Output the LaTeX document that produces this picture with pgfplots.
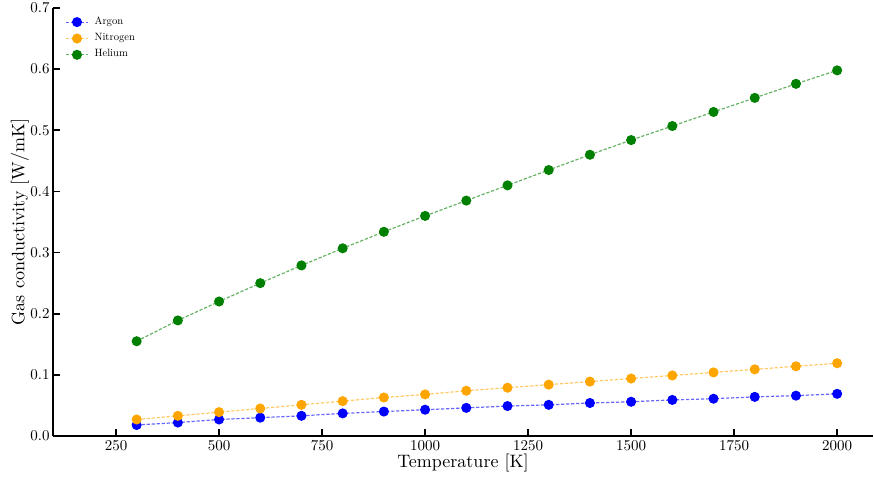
\documentclass[border=0pt]{standalone}
\usepackage{fontspec}
\setmainfont{lmroman10}[Extension=.otf, UprightFont=*-regular]
\usepackage{pgfplots}
\pgfplotsset{compat=1.18}

\definecolor{cblue}{RGB}{0,0,255}
\definecolor{corange}{RGB}{255,165,0}
\definecolor{cgreen}{RGB}{0,128,0}

\begin{document}
\begin{tikzpicture}
\begin{axis}[
    scale only axis,
    width=410pt,
    height=214pt,
    xmin=97, xmax=2087,
    ymin=0, ymax=0.7,
    axis x line=bottom,
    axis y line=left,
    axis line style={-, line width=0.9pt},
    tick align=inside,
    major tick length=3.5pt,
    tick style={line width=0.9pt, black},
    xtick={250,500,750,1000,1250,1500,1750,2000},
    ytick={0,0.1,0.2,0.3,0.4,0.5,0.6,0.7},
    /pgf/number format/assume math mode=true,
    yticklabel style={/pgf/number format/.cd, fixed, fixed zerofill, precision=1,
        /tikz/.cd, inner xsep=1.5pt},
    xticklabel style={/pgf/number format/1000 sep=, inner ysep=2pt},
    tick label style={font=\fontsize{7.5}{8}\selectfont},
    xlabel={Temperature [K]},
    ylabel={Gas conductivity [W/mK]},
    every axis x label/.style={at={(axis description cs:0.5,0)}, anchor=center,
        yshift=-13.5pt, font=\fontsize{9}{11}\selectfont},
    every axis y label/.style={at={(axis description cs:0,0.5)}, anchor=center,
        rotate=90, yshift=16.5pt, font=\fontsize{9}{11}\selectfont},
    legend style={draw=none, fill=none, at={(axis description cs:0,1)}, anchor=north west,
        xshift=3pt, yshift=-1.2pt,
        font=\fontsize{5.3}{6}\selectfont, row sep=1pt, column sep=2pt,
        nodes={inner sep=1pt}},
    legend cell align=left,
    legend image code/.code={
        \draw[mark repeat=2, mark phase=2] plot coordinates {(0pt,0pt) (5.5pt,0pt) (11pt,0pt)};
    },
    every axis plot/.append style={dash pattern=on 1.6pt off 0.9pt, line width=0.6pt,
        mark=*, mark size=2.2pt},
]

\addplot[cblue, draw opacity=0.6, mark options={solid, opacity=1, fill=cblue, draw=cblue}] coordinates {
    (300,0.018) (400,0.022) (500,0.027) (600,0.030) (700,0.033) (800,0.037)
    (900,0.040) (1000,0.043) (1100,0.046) (1200,0.049) (1300,0.051) (1400,0.054)
    (1500,0.056) (1600,0.059) (1700,0.061) (1800,0.064) (1900,0.066) (2000,0.069)
};
\addlegendentry{Argon}

\addplot[corange, draw opacity=0.6, mark options={solid, opacity=1, fill=corange, draw=corange}] coordinates {
    (300,0.027) (400,0.033) (500,0.039) (600,0.045) (700,0.051) (800,0.057)
    (900,0.063) (1000,0.068) (1100,0.074) (1200,0.079) (1300,0.084) (1400,0.089)
    (1500,0.094) (1600,0.099) (1700,0.104) (1800,0.109) (1900,0.114) (2000,0.119)
};
\addlegendentry{Nitrogen}

\addplot[cgreen, draw opacity=0.6, mark options={solid, opacity=1, fill=cgreen, draw=cgreen}] coordinates {
    (300,0.155) (400,0.189) (500,0.220) (600,0.250) (700,0.279) (800,0.307)
    (900,0.334) (1000,0.360) (1100,0.385) (1200,0.410) (1300,0.435) (1400,0.460)
    (1500,0.484) (1600,0.507) (1700,0.530) (1800,0.553) (1900,0.576) (2000,0.598)
};
\addlegendentry{Helium}

\end{axis}
\pgfresetboundingbox
\path (-26.5pt,-21.5pt) rectangle (410.5pt,218pt);
\end{tikzpicture}
\end{document}
